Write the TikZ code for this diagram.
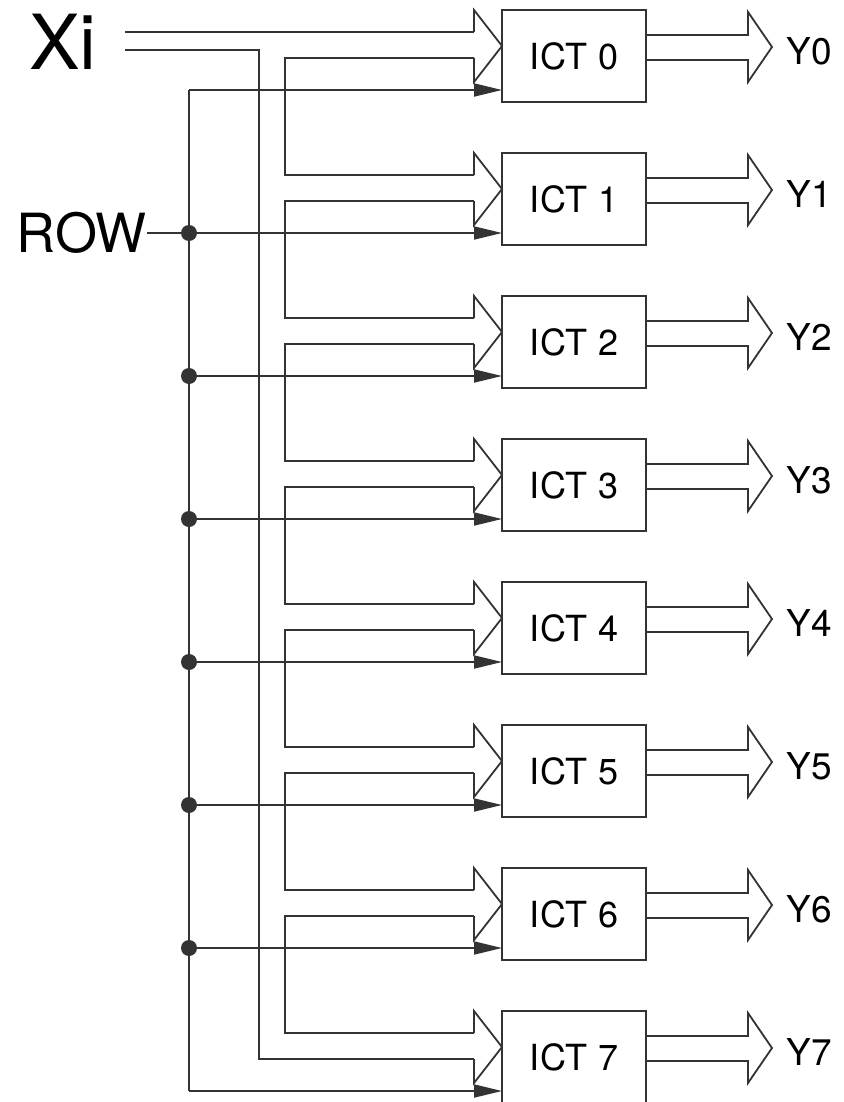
\documentclass[tikz,border=0pt]{standalone}
\usepackage{fontspec}
\setmainfont{TeX Gyre Heros}
\usetikzlibrary{positioning, arrows.meta, calc}

\begin{document}
\begin{tikzpicture}[
    x=0.5pt, y=-0.5pt,
    ictbox/.style={draw=black!80, line width=0.9pt, minimum width=72pt, minimum height=46pt, inner sep=0pt, outer sep=0pt, anchor=north west, font=\fontsize{18}{18}\selectfont},
    wire/.style={line width=0.9pt, draw=black!80},
    rowarr/.style={wire, -{Triangle[length=14pt, width=6.5pt]}},
    junction/.style={circle, fill=black!80, minimum size=8pt, inner sep=0pt},
    outlabel/.style={anchor=west, inner sep=0pt, font=\fontsize{18.5}{18.5}\selectfont}
]
\useasboundingbox (0,0) rectangle (843,1102);

% Bus columns
\coordinate (rowbus) at (189,0);
\coordinate (xibus)  at (259,0);
\coordinate (brk)    at (285,0);

% ICT blocks with input and output buses
\foreach \k in {0,...,7} {
    \pgfmathsetmacro\yt{10+143*\k}
    \node[ictbox] (ict\k) at (502,\yt) {ICT \k};
    \node[outlabel] (y\k) at (786,\yt+41) {Y\k};

    \coordinate (inup\k) at ($(ict\k.north west)+(-28,22)$);
    \coordinate (inlo\k) at ($(ict\k.north west)+(-28,48)$);
    \draw[wire] (inup\k) -- ++(0,-22) -- ($(ict\k.north west)+(0,36)$) -- ++(-28,36) -- (inlo\k);

    \draw[wire] ($(ict\k.north east)+(0,25)$) -- ++(102,0) -- ++(0,-23) -- ++(24,35)
        -- ++(-24,35) -- ++(0,-22) -- ($(ict\k.north east)+(0,50)$);

    \coordinate (sel\k) at (rowbus |- 0,\yt+80);
    \draw[rowarr] (sel\k) -- (sel\k -| ict\k.west);
}

% Xi bus
\node[inner sep=0pt, font=\fontsize{38}{38}\selectfont] (xi) at (63,42) {Xi};
\coordinate (xitop) at (125,32);
\coordinate (xibot) at (125,50);
\draw[wire] (xitop) -- (inup0);
\draw[wire] (xibot) -- (xibot -| xibus) |- (inlo7);

% Links between neighbouring blocks
\foreach \k [evaluate=\k as \n using int(\k+1)] in {0,...,6} {
    \draw[wire] (inlo\k) -- (inlo\k -| brk) |- (inup\n);
}

% ROW line
\draw[wire] (sel0) -- (sel7);
\foreach \k in {1,...,6}
    \node[junction] (dot\k) at (sel\k) {};
\node[inner sep=0pt, anchor=east, font=\fontsize{27}{27}\selectfont] (row) at (147,233) {ROW};
\draw[wire] (row.east) -- (dot1);

\end{tikzpicture}
\end{document}
